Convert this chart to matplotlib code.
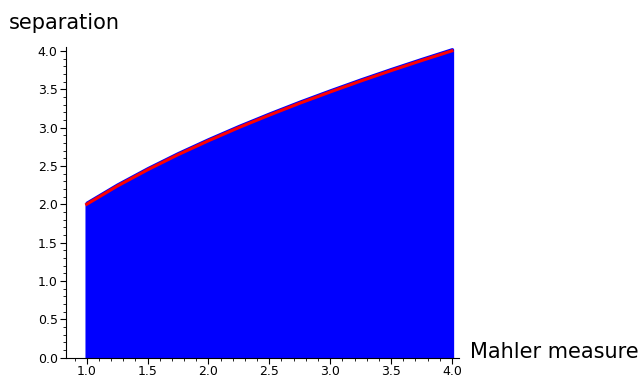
import matplotlib
matplotlib.use("Agg")
import matplotlib.pyplot as plt
from matplotlib.ticker import MultipleLocator

# upper boundary of the point cloud
mahler = [1.0, 1.25, 1.5, 1.75, 2.0, 2.25, 2.5, 2.75, 3.0, 3.25, 3.5, 3.75, 4.0]
sep_max = [2.0, 2.236, 2.449, 2.646, 2.828, 3.0, 3.162, 3.317, 3.464, 3.606,
           3.742, 3.873, 4.0]

fig = plt.figure(figsize=(6.44, 3.77), dpi=100)
ax = fig.add_axes([0.1025, 0.0512, 0.6102, 0.8241])

# dense cloud of points below the curve
ax.fill_between(mahler, 0, [s + 0.02 for s in sep_max], color=(0, 0, 1),
                edgecolor=(0, 0, 1), linewidth=2.5, zorder=1)
ax.plot(mahler, sep_max, color=(1, 0, 0), linewidth=2.2, zorder=3)

ax.set_xlim(0.83, 4.058)
ax.set_ylim(0, 4.05)

for s in ["top", "right"]:
    ax.spines[s].set_visible(False)
for s in ["left", "bottom"]:
    ax.spines[s].set_linewidth(0.8)

ax.xaxis.set_major_locator(MultipleLocator(0.5))
ax.xaxis.set_minor_locator(MultipleLocator(0.1))
ax.yaxis.set_major_locator(MultipleLocator(0.5))
ax.yaxis.set_minor_locator(MultipleLocator(0.1))
ax.tick_params(which="major", length=4, width=0.8, labelsize=9, pad=2)
ax.tick_params(axis="x", which="major", pad=1)
ax.tick_params(which="minor", length=2, width=0.6)

fig.text(9 / 644, 1 - 23 / 377, "separation", fontsize=15, va="center", ha="left")
fig.text(470 / 644, 1 - 352 / 377, "Mahler measure", fontsize=15, va="center", ha="left")

fig.savefig("out.png", dpi=100)
